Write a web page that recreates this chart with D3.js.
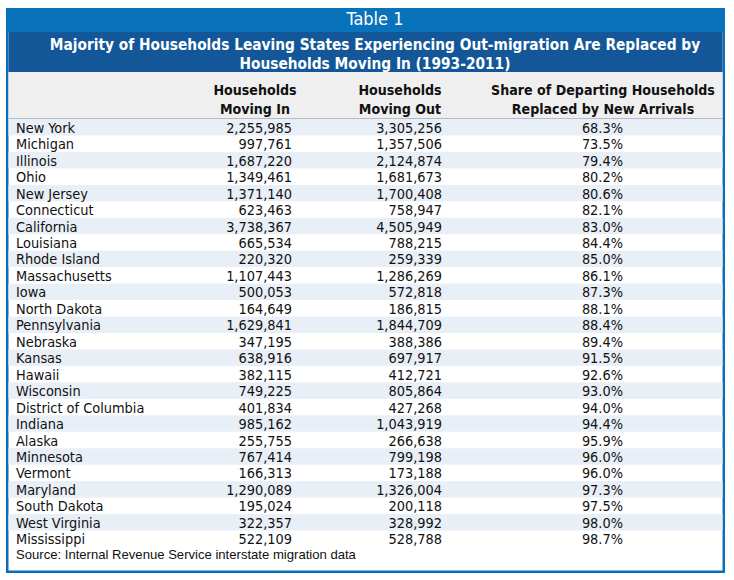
<!DOCTYPE html>
<html><head><meta charset="utf-8">
<script src="https://cdn.jsdelivr.net/npm/d3@7"></script>
<style>html,body{margin:0;padding:0;background:#fff;}svg{display:block;}</style>
</head><body>
<svg id="c" width="734" height="580"></svg>
<script>
const tableLabel = "Table 1";
const titleLines = ["Majority of Households Leaving States Experiencing Out-migration Are Replaced by", "Households Moving In (1993-2011)"];
const columnHeaders = [["Households","Moving In"],["Households","Moving Out"],["Share of Departing Households","Replaced by New Arrivals"]];
const states = ["New York","Michigan","Illinois","Ohio","New Jersey","Connecticut","California","Louisiana","Rhode Island","Massachusetts","Iowa","North Dakota","Pennsylvania","Nebraska","Kansas","Hawaii","Wisconsin","District of Columbia","Indiana","Alaska","Minnesota","Vermont","Maryland","South Dakota","West Virginia","Mississippi"];
const movingIn = [2255985,997761,1687220,1349461,1371140,623463,3738367,665534,220320,1107443,500053,164649,1629841,347195,638916,382115,749225,401834,985162,255755,767414,166313,1290089,195024,322357,522109];
const movingOut = [3305256,1357506,2124874,1681673,1700408,758947,4505949,788215,259339,1286269,572818,186815,1844709,388386,697917,412721,805864,427268,1043919,266638,799198,173188,1326004,200118,328992,528788];
const sharePct = [68.3,73.5,79.4,80.2,80.6,82.1,83.0,84.4,85.0,86.1,87.3,88.1,88.4,89.4,91.5,92.6,93.0,94.0,94.4,95.9,96.0,96.0,97.3,97.5,98.0,98.7];
const sourceNote = "Source: Internal Revenue Service interstate migration data";

const svg = d3.select("#c");
const FONT = "'Liberation Sans Narrow','DejaVu Sans Condensed','Arial Narrow',sans-serif";
const X0 = 6, X1 = 725, Y0 = 8, Y1 = 573, B = 2.5;
const TITLE_CX = 375;

// frame
svg.append("rect").attr("x",X0).attr("y",Y0).attr("width",X1-X0).attr("height",Y1-Y0).attr("fill","#0b6eb8");
svg.append("rect").attr("x",X0+B).attr("y",Y0).attr("width",X1-X0-2*B).attr("height",Y1-Y0-B).attr("fill","#ffffff");
// top bar
svg.append("rect").attr("x",X0).attr("y",Y0).attr("width",X1-X0).attr("height",24).attr("fill","#0872bb");
svg.append("rect").attr("x",X0+B).attr("y",32).attr("width",X1-X0-2*B).attr("height",40).attr("fill","#135799");
svg.append("text").attr("x",TITLE_CX).attr("y",25).attr("text-anchor","middle")
  .attr("font-family",FONT).attr("font-size",18).attr("fill","#fff").text(tableLabel);
svg.selectAll("text.title").data(titleLines).join("text").attr("class","title")
  .attr("x",TITLE_CX).attr("y",(d,i)=>50+i*19).attr("text-anchor","middle")
  .attr("font-family",FONT).attr("font-size",15.3).attr("font-weight","bold").attr("fill","#fff").text(d=>d);

// header
svg.append("rect").attr("x",X0+B).attr("y",72).attr("width",X1-X0-2*B).attr("height",46.5).attr("fill","#efefef");
const colCenters = [255,400,603];
columnHeaders.forEach((lines,ci)=>{
  svg.selectAll(null).data(lines).join("text")
    .attr("x",colCenters[ci]).attr("y",(d,i)=>95+i*18.5).attr("text-anchor","middle")
    .attr("font-family",FONT).attr("font-size",14.1).attr("font-weight","bold").attr("fill","#111").text(d=>d);
});
svg.append("line").attr("x1",X0+B).attr("x2",X1-B).attr("y1",118.5).attr("y2",118.5).attr("stroke","#b3bcc6").attr("stroke-width",1.2);

// rows
const y = d3.scaleBand().domain(states).range([119, 547]).paddingInner(0);
const fmt = d3.format(",");
const rows = states.map((s,i)=>({state:s, inn:movingIn[i], out:movingOut[i], share:sharePct[i], i}));
const g = svg.append("g");
g.selectAll("rect.band").data(rows.filter(r=>r.i%2===0)).join("rect").attr("class","band")
  .attr("x",X0+B).attr("width",X1-X0-2*B).attr("y",d=>y(d.state)).attr("height",y.bandwidth()).attr("fill","#e9eff7");
const txt = (sel)=>sel.attr("font-family",FONT).attr("font-size",14.4).attr("fill","#111").attr("dominant-baseline","central");
const cy = d=>y(d.state)+y.bandwidth()/2+0.5;
txt(g.selectAll("text.st").data(rows).join("text").attr("class","st").attr("x",16).attr("y",cy).text(d=>d.state));
txt(g.selectAll("text.in").data(rows).join("text").attr("class","in").attr("x",292).attr("text-anchor","end").attr("y",cy).text(d=>fmt(d.inn)));
txt(g.selectAll("text.out").data(rows).join("text").attr("class","out").attr("x",442).attr("text-anchor","end").attr("y",cy).text(d=>fmt(d.out)));
txt(g.selectAll("text.sh").data(rows).join("text").attr("class","sh").attr("x",623).attr("text-anchor","end").attr("y",cy).text(d=>d3.format(".1f")(d.share)+"%"));

svg.append("text").attr("x",16).attr("y",559).attr("font-family","'Liberation Sans',Arial,sans-serif").attr("font-size",13.1).attr("fill","#111").text(sourceNote);
</script>
</body></html>
